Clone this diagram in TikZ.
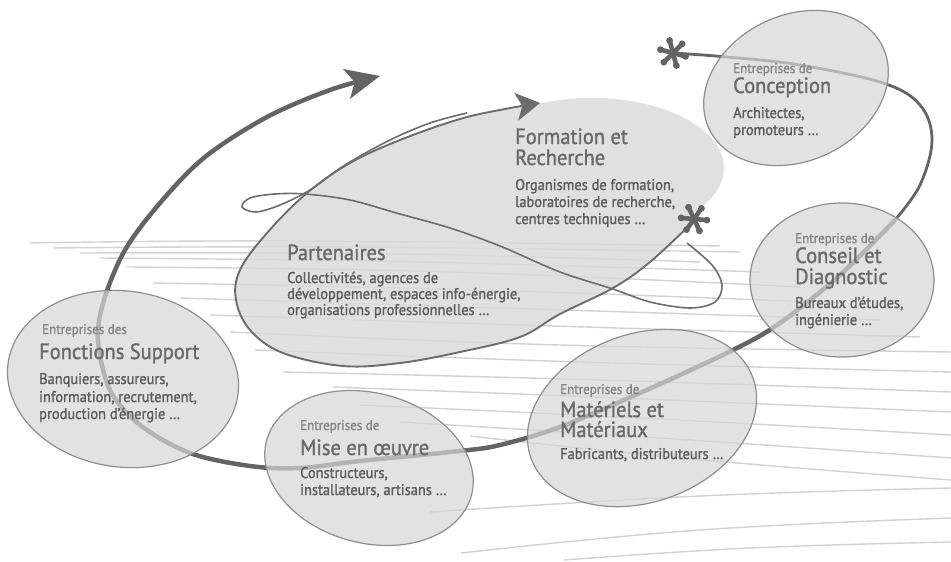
\documentclass[tikz,border=0pt]{standalone}
\usepackage{fontspec}
\setmainfont{PT Sans}[FakeStretch=0.93, FakeBold=1.3]
\usetikzlibrary{arrows.meta}
\definecolor{bgline}{HTML}{D2D2D2}
\definecolor{curvec}{HTML}{646464}
\definecolor{thinc}{HTML}{6C6C6C}
\definecolor{ellf}{HTML}{D6D6D6}
\definecolor{elld}{HTML}{8E8E8E}
\definecolor{blobf}{HTML}{DADADA}
\definecolor{hdrc}{HTML}{858585}
\definecolor{ttlc}{HTML}{696969}
\definecolor{bdyc}{HTML}{5C5C5C}
\begin{document}
\begin{tikzpicture}[x=1pt,y=-1pt,
  hdr/.style={anchor=base west, inner sep=0pt, text=hdrc, font=\fontsize{14}{14}\selectfont},
  ttl/.style={anchor=base west, inner sep=0pt, text=ttlc, font=\fontsize{22}{17}\selectfont},
  bdy/.style={anchor=base west, inner sep=0pt, text=bdyc, font=\fontsize{15.5}{17}\selectfont},
  bgl/.style={draw=bgline, line width=1.4pt},
  ell/.style={fill=ellf, fill opacity=0.7, draw=elld, line width=1.2pt},
  thinline/.style={draw=thinc, line width=1.9pt},
  mainline/.style={draw=curvec, line width=4.5pt},
  astspoke/.style={draw=curvec, line width=4.6pt, line cap=round},
  astbulb/.style={fill=curvec}]
\useasboundingbox (0,0) rectangle (951,562);
\fill[white] (0,0) rectangle (951,562);

% background flow lines
\foreach \a/\b/\c/\d/\e/\f in {
  30/243/300/241/720/246, 53/248/350/247/740/252, 80/253/400/254/700/262,
  100/258/420/262/760/272, 127/267/450/272/800/287, 153/283/480/290/840/303,
  180/298/500/308/880/320, 210/315/520/325/920/337, 230/332/560/345/951/352,
  255/350/580/362/951/372, 283/372/600/380/951/392, 333/387/620/398/951/412,
  360/405/640/418/951/435, 400/422/660/438/951/458, 470/436/680/458/951/480,
  430/512/700/496/951/488, 461/553/700/530/951/518, 564/560/750/548/951/542}
  \draw[bgl] plot[smooth, tension=0.7] coordinates {(\a,\b) (\c,\d) (\e,\f)};

% Formation / Partenaires fills
\begin{scope}[transparency group, opacity=0.82]
\fill[blobf] (592,168) ellipse [x radius=132, y radius=70];
\fill[blobf] plot[smooth, tension=0.6] coordinates {(693,222) (650,262) (613,288) (560,314) (520,337) (460,352) (400,363) (343,366) (283,353) (250,330) (236,300) (240,270) (267,233) (307,193) (350,163) (400,140) (460,119) (500,110) (540,103)} -- cycle;
\end{scope}

% loop line
\draw[thinline, line width=1.6pt] plot[smooth, tension=0.55] coordinates {(467,113) (430,123) (390,140) (345,165) (310,190) (280,205) (256,212) (242,207) (250,198) (275,194) (305,194) (350,200) (400,214) (450,228) (500,246) (560,272) (613,289) (650,302) (690,308) (715,302) (722,285) (712,265) (687,243)};
% Partenaires outline with arrow
\draw[thinline, -{Stealth[length=24pt,width=28pt,inset=6pt]}] plot[smooth, tension=0.6] coordinates {(693,222) (650,262) (613,288) (560,314) (520,337) (460,352) (400,363) (343,366) (283,353) (250,330) (236,300) (240,270) (267,233) (307,193) (350,163) (400,140) (460,119) (505,109) (540,103)};

% main curve
\draw[mainline, line width=2.8pt] plot[smooth, tension=0.6] coordinates {(673,53) (727,57) (800,65) (883,83) (920,105) (932,140) (920,185) (895,220)};
\draw[mainline, -{Stealth[length=34pt,width=30pt,inset=8pt]}] plot[smooth, tension=0.55] coordinates {(895,220) (840,275) (780,323) (733,350) (640,393) (560,427) (500,445) (460,451) (360,461) (300,468) (250,466) (190,453) (140,425) (110,390) (98,340) (104,300) (125,250) (160,203) (205,157) (267,117) (330,90) (380,76)};

% ellipses
\path[ell] (796,88) ellipse [x radius=96, y radius=73, rotate=25];
\path[ell] (842,280) ellipse [x radius=92, y radius=77];
\path[ell] (642,418) ellipse [x radius=118, y radius=84, rotate=20];
\path[ell] (369,468) ellipse [x radius=106, y radius=75, rotate=-15];
\path[ell] (123,379) ellipse [x radius=116, y radius=88, rotate=-8];

% asterisks
\foreach \ang in {0,60,...,300} {
  \draw[astspoke] (673,53) -- ++(\ang+15:12);
  \fill[astbulb] (673,53) ++(\ang+15:13) circle [radius=3.4];
  \draw[astspoke] (694,219) -- ++(\ang+5:12);
  \fill[astbulb] (694,219) ++(\ang+5:13) circle [radius=3.4];
}

% texts
\node[hdr] (conh) at (733,73) {Entreprises de};
\node[ttl] (cont) at (733,93) {Conception};
\node[bdy] (conb1) at (733,118) {Architectes,};
\node[bdy] (conb2) at (733,135) {promoteurs …};

\node[ttl] (fort1) at (515,144) {Formation et};
\node[ttl] (fort2) at (515,165) {Recherche};
\node[bdy] (forb1) at (515,190) {Organismes de formation,};
\node[bdy] (forb2) at (515,207) {laboratoires de recherche,};
\node[bdy] (forb3) at (515,224) {centres techniques …};

\node[ttl] (part) at (287,260) {Partenaires};
\node[bdy] (parb1) at (287,283) {Collectivités, agences de};
\node[bdy] (parb2) at (287,299) {développement, espaces info-énergie,};
\node[bdy] (parb3) at (287,315) {organisations professionnelles …};

\node[hdr] (cdh) at (795,243) {Entreprises de};
\node[ttl] (cdt1) at (795,263) {Conseil et};
\node[ttl] (cdt2) at (795,284) {Diagnostic};
\node[bdy] (cdb1) at (795,308) {Bureaux d’études,};
\node[bdy] (cdb2) at (795,325) {ingénierie …};

\node[hdr] (fsh) at (42,334) {Entreprises des};
\node[ttl] (fst) at (39,359) {Fonctions Support};
\node[bdy] (fsb1) at (39,384) {Banquiers, assureurs,};
\node[bdy] (fsb2) at (39,402) {information, recrutement,};
\node[bdy] (fsb3) at (39,419) {production d’énergie …};

\node[hdr] (meh) at (300,430) {Entreprises de};
\node[ttl] (met) at (300,455) {Mise en œuvre};
\node[bdy] (meb1) at (300,478) {Constructeurs,};
\node[bdy] (meb2) at (300,495) {installateurs, artisans …};

\node[hdr] (mmh) at (560,394) {Entreprises de};
\node[ttl] (mmt1) at (560,417) {Matériels et};
\node[ttl] (mmt2) at (560,437) {Matériaux};
\node[bdy] (mmb) at (560,459) {Fabricants, distributeurs …};
\end{tikzpicture}
\end{document}
